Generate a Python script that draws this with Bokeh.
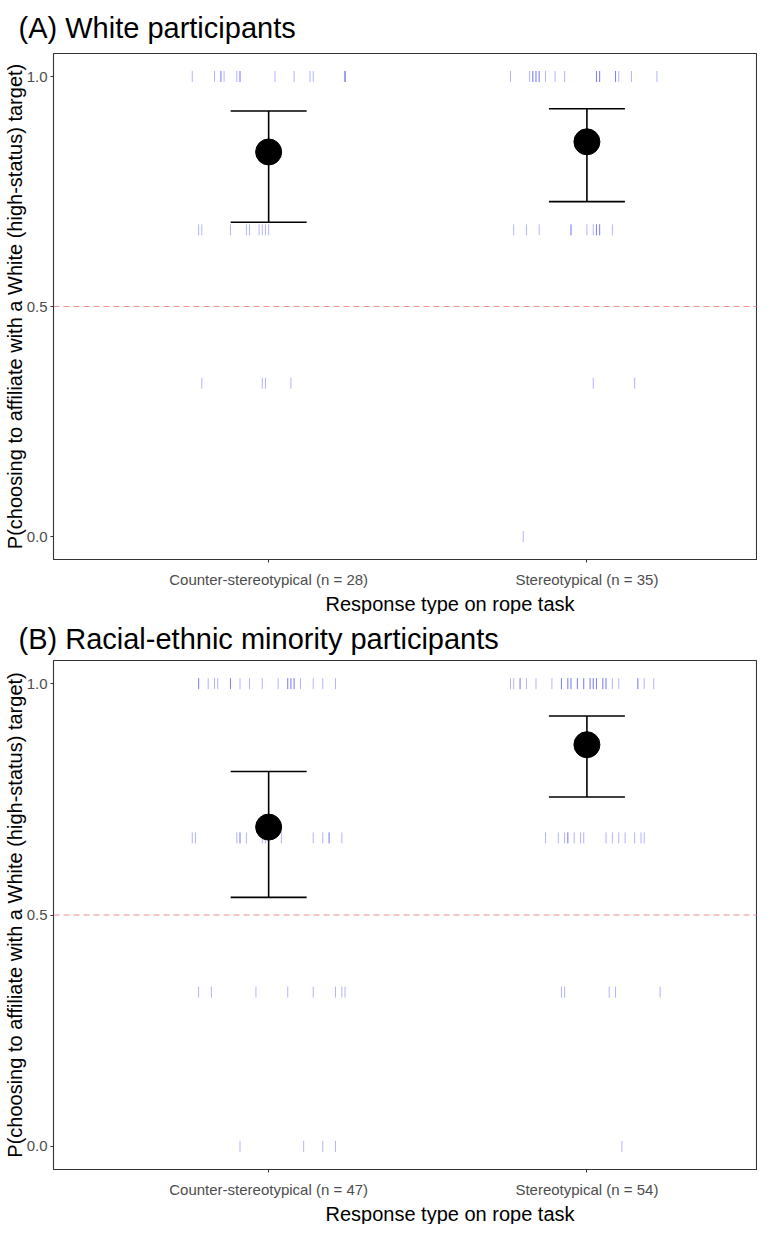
import math
from bokeh.plotting import figure
from bokeh.models import Range1d, FixedTicker, Span, Whisker, TeeHead, ColumnDataSource, NumeralTickFormatter, Title
from bokeh.layouts import column
from bokeh.embed import file_html
from bokeh.resources import INLINE

# ---------------- data ----------------
titles = ["(A) White participants", "(B) Racial-ethnic minority participants"]
categories_a = ["Counter-stereotypical (n = 28)", "Stereotypical (n = 35)"]
categories_b = ["Counter-stereotypical (n = 47)", "Stereotypical (n = 54)"]
x_title = "Response type on rope task"
y_title = "P(choosing to affiliate with a White (high-status) target)"

means_a = [0.836, 0.858]
lower_a = [0.683, 0.728]
upper_a = [0.925, 0.930]
means_b = [0.690, 0.868]
lower_b = [0.538, 0.755]
upper_b = [0.810, 0.930]

# individual participants (jitter offset from category, proportion)
a_counter_offsets = [-0.24, -0.17, -0.15, -0.15, -0.14, -0.10, -0.09, -0.09, 0.02, 0.08, 0.13, 0.14, 0.24, 0.24, 0.24,
                     -0.22, -0.21, -0.12, -0.07, -0.06, -0.03, -0.02, -0.01, 0.00,
                     -0.21, -0.02, -0.01, 0.07]
a_counter_values = [1.0] * 15 + [2 / 3] * 9 + [1 / 3] * 4

a_stereo_offsets = [-0.24, -0.18, -0.17, -0.16, -0.15, -0.13, -0.10, -0.07, 0.03, 0.04, 0.09, 0.10, 0.14, 0.22,
                    -0.17, 0.03, 0.09, -0.16, 0.04, -0.15,
                    -0.23, -0.19, -0.15, -0.05, 0.00, 0.02, 0.03, 0.04, 0.08, -0.05, 0.03, 0.04,
                    0.02, 0.15,
                    -0.20]
a_stereo_values = [1.0] * 20 + [2 / 3] * 12 + [1 / 3] * 2 + [0.0] * 1

b_counter_offsets = [-0.22, -0.19, -0.17, -0.16, -0.12, -0.09, -0.06, -0.02, 0.03, 0.06, 0.07, 0.08, 0.10, 0.14, 0.17, 0.21,
                     0.06, 0.07, -0.12, 0.08, -0.22,
                     -0.24, -0.23, -0.10, -0.09, -0.07, -0.02, -0.01, 0.04, 0.14, 0.17, 0.19, 0.23, -0.09, 0.19,
                     -0.22, -0.18, -0.04, 0.06, 0.14, 0.21, 0.23, 0.24,
                     -0.09, 0.11, 0.17, 0.21]
b_counter_values = [1.0] * 21 + [2 / 3] * 14 + [1 / 3] * 8 + [0.0] * 4

b_stereo_offsets = [-0.24, -0.23, -0.21, -0.19, -0.16, -0.11, -0.08, -0.06, -0.05, -0.03, -0.01, 0.01, 0.02, 0.03, 0.05,
                    0.06, 0.08, 0.10, 0.16, 0.18, 0.21,
                    -0.08, -0.06, -0.05, -0.03, -0.01, 0.01, 0.02, 0.03, 0.05, 0.06, -0.21, 0.16,
                    -0.13, -0.09, -0.07, -0.06, -0.04, -0.02, -0.01, 0.06, 0.08, 0.10, 0.12, 0.15, 0.17, 0.18, -0.06,
                    -0.08, -0.07, 0.07, 0.09, 0.23,
                    0.11]
b_stereo_values = [1.0] * 33 + [2 / 3] * 15 + [1 / 3] * 5 + [0.0] * 1

y_ticks = [0.0, 0.5, 1.0]
chance_level = 0.5

FONT = "Liberation Sans"


def make_panel(title, cats, means, lower, upper, groups, height, top, title_standoff):
    p = figure(width=757, height=height,
               x_range=Range1d(0.324, 2.536), y_range=Range1d(-0.05, 1.05),
               output_backend="svg", toolbar_location=None,
               min_border_left=47, min_border_right=0, min_border_top=top, min_border_bottom=54)
    p.xgrid.visible = False
    p.ygrid.visible = False
    p.outline_line_color = "#333333"
    p.outline_line_width = 1.1
    p.background_fill_color = "white"
    p.border_fill_color = "white"

    p.title.text = title
    p.title.text_font = FONT
    p.title.text_font_size = "29px"
    p.title.text_font_style = "normal"
    p.title.text_color = "black"
    p.title.align = "left"
    p.title.offset = -35
    p.title.standoff = title_standoff

    # jittered participant ticks
    for i, (offs, vals) in enumerate(groups):
        xs = [i + 1 + o for o in offs]
        p.scatter(xs, vals, marker="dash", angle=math.pi / 2, size=11,
                  line_color="#0000ff", line_alpha=0.3, line_width=1)

    p.add_layout(Span(location=chance_level, dimension="width", line_color="#ee6a6a",
                      line_dash="6 4", line_width=1.2, line_alpha=0.75))

    src = ColumnDataSource(dict(x=[1, 2], mean=means, lower=lower, upper=upper))
    p.add_layout(Whisker(base="x", upper="upper", lower="lower", source=src, dimension="height",
                         line_color="black", line_width=1.6,
                         upper_head=TeeHead(size=76, line_width=1.6, line_color="black"),
                         lower_head=TeeHead(size=76, line_width=1.6, line_color="black")))
    p.scatter("x", "mean", source=src, size=26, color="black")

    for ax in (p.xaxis[0], p.yaxis[0]):
        ax.axis_line_color = "#333333"
        ax.major_tick_line_color = "#333333"
        ax.major_tick_out = 3
        ax.major_tick_in = 0
        ax.minor_tick_line_color = None
        ax.major_label_text_font = FONT
        ax.major_label_text_font_size = "15px"
        ax.major_label_text_color = "#4d4d4d"
        ax.axis_label_text_font = FONT
        ax.axis_label_text_font_size = "20px"
        ax.axis_label_text_font_style = "normal"
        ax.axis_label_text_color = "black"

    p.xaxis.ticker = FixedTicker(ticks=[1, 2])
    p.xaxis.major_label_overrides = {1: cats[0], 2: cats[1]}
    p.xaxis.major_label_standoff = 8

    xt = Title(text=x_title, align="left", offset=272, standoff=0,
               text_font=FONT, text_font_size="20px", text_font_style="normal", text_color="black")
    p.add_layout(xt, "below")

    p.yaxis.ticker = FixedTicker(ticks=y_ticks)
    p.yaxis.formatter = NumeralTickFormatter(format="0.0")
    p.yaxis.axis_label = y_title
    p.yaxis.major_label_standoff = 3
    p.yaxis.axis_label_standoff = -2
    return p


pa = make_panel(titles[0], categories_a, means_a, lower_a, upper_a,
                [(a_counter_offsets, a_counter_values), (a_stereo_offsets, a_stereo_values)], 614, 51, 19)
pb = make_panel(titles[1], categories_b, means_b, lower_b, upper_b,
                [(b_counter_offsets, b_counter_values), (b_stereo_offsets, b_stereo_values)], 610, 46, 11)

layout = column(pa, pb, spacing=0)
open("out.html", "w").write(file_html(layout, INLINE))
